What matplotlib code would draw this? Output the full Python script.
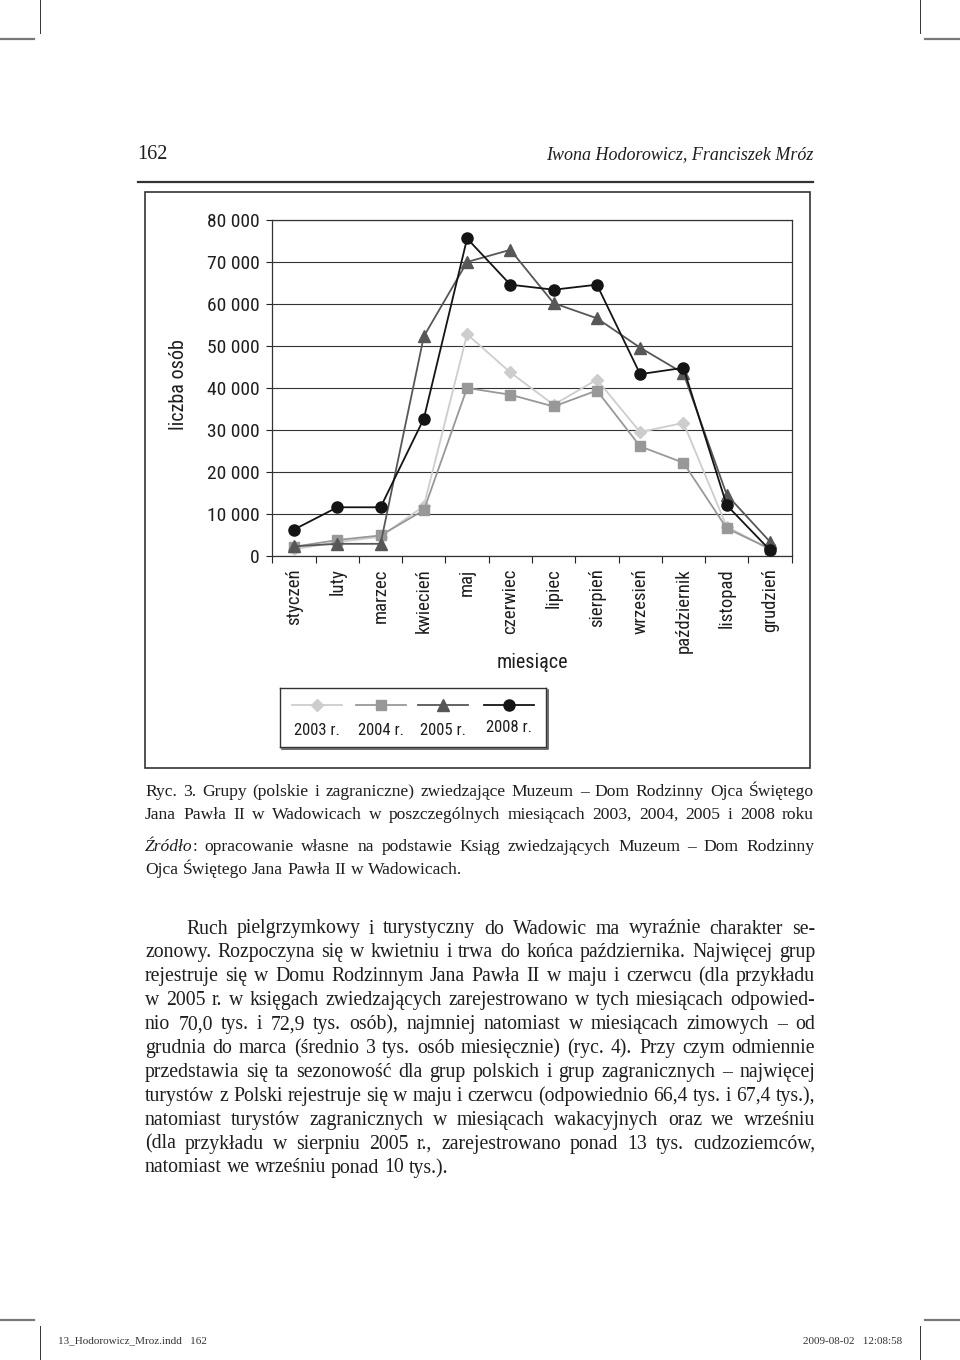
import matplotlib
matplotlib.use('Agg')
import matplotlib.pyplot as plt
from matplotlib.patches import Rectangle
from matplotlib.lines import Line2D

# chart data
MONTHS = ['styczeń', 'luty', 'marzec', 'kwiecień', 'maj', 'czerwiec', 'lipiec',
          'sierpień', 'wrzesień', 'październik', 'listopad', 'grudzień']
YEARS = ['2003 r.', '2004 r.', '2005 r.', '2008 r.']
V2003 = [1600, 3300, 4600, 11900, 52800, 43700, 36000, 42000, 29500, 31700, 7000, 1600]
V2004 = [2200, 3800, 4900, 10900, 40000, 38400, 35600, 39400, 26100, 22200, 6600, 1700]
V2005 = [2300, 2900, 2900, 52300, 70000, 72900, 60200, 56600, 49600, 43500, 14600, 3400]
V2008 = [6300, 11600, 11600, 32700, 75600, 64600, 63400, 64600, 43300, 44800, 12100, 1400]
Y_TICKS = [0, 10000, 20000, 30000, 40000, 50000, 60000, 70000, 80000]

SERIES = [
    (V2003, '#cdcdcd', 'D', 6),
    (V2004, '#989898', 's', 6.5),
    (V2005, '#575757', '^', 8),
    (V2008, '#141414', 'o', 8),
]

W, H = 960, 1360
SANS = ['Roboto Condensed', 'DejaVu Sans']
SERIF = ['Liberation Serif', 'DejaVu Serif']
INK = '#1e1e1e'

fig = plt.figure(figsize=(W / 100, H / 100), dpi=100)


def fx(x):
    return x / W


def fy(y):
    return 1 - y / H


def box(x0, y0, x1, y1):
    return [fx(x0), fy(y1), fx(x1) - fx(x0), fy(y0) - fy(y1)]


# crop marks
for xs, ys, c, lw in [([0, 34], [39, 39], '#777777', 1.6), ([925, 960], [39, 39], '#777777', 1.6),
                      ([40, 40], [0, 33], '#333333', 0.7), ([920, 920], [0, 33], '#333333', 0.7),
                      ([0, 34], [1320, 1320], '#777777', 1.6), ([925, 960], [1320, 1320], '#777777', 1.6),
                      ([40, 40], [1326, 1360], '#333333', 0.7), ([920, 920], [1326, 1360], '#333333', 0.7)]:
    fig.add_artist(Line2D([fx(v) for v in xs], [fy(v) for v in ys], color=c, lw=lw))

# running header
fig.text(fx(137), fy(159), '162', family=SERIF, fontsize=14.5, va='baseline', ha='left', color=INK)
fig.text(fx(813), fy(159), 'Iwona Hodorowicz, Franciszek Mróz', family=SERIF, style='italic',
         fontsize=13, va='baseline', ha='right', color=INK)
fig.add_artist(Line2D([fx(138), fx(813)], [fy(182), fy(182)], color='#333333', lw=1.6))

# frame round the figure
fig.add_artist(Rectangle((fx(145), fy(768)), fx(810) - fx(145), fy(192) - fy(768),
                         fill=False, edgecolor='#333333', lw=1.2))

# the line chart
ax = fig.add_axes(box(272.4, 220, 791.6, 556))
x = list(range(len(MONTHS)))
for vals, col, mk, ms in SERIES:
    ax.plot(x, vals, color=col, lw=1.3, marker=mk, markersize=ms, markerfacecolor=col,
            markeredgecolor=col, zorder=3)
ax.set_xlim(-0.5, len(MONTHS) - 0.5)
ax.set_ylim(0, 80000)
ax.set_yticks(Y_TICKS)
ax.set_yticklabels([f'{v:,}'.replace(',', ' ') for v in Y_TICKS], family=SANS, fontsize=14,
                   color=INK)
ax.tick_params(axis='y', length=4, width=0.8, pad=5, color='#222222')
ax.grid(axis='y', color='#333333', lw=0.8)
ax.set_axisbelow(True)
ax.set_xticks([i - 0.5 for i in range(len(MONTHS) + 1)])
ax.set_xticklabels([])
ax.tick_params(axis='x', which='major', length=5, width=0.8, color='#222222')
ax.set_xticks(x, minor=True)
ax.set_xticklabels(MONTHS, minor=True, rotation=90, family=SANS, fontsize=13.5, color=INK)
ax.tick_params(axis='x', which='minor', length=0, pad=9)
for s in ax.spines.values():
    s.set_color('#333333')
    s.set_linewidth(0.9)

fig.text(fx(179), fy(385), 'liczba osób', rotation=90, family=SANS, fontsize=14.5,
         ha='center', va='center', color=INK)
fig.text(fx(532), fy(662), 'miesiące', family=SANS, fontsize=14.5, ha='center', va='center',
         color=INK)

# legend box, Excel style with labels under the samples
lg = fig.add_axes(box(280, 688, 546, 747))
lg.set_xlim(280, 546)
lg.set_ylim(747, 688)
lg.set_xticks([])
lg.set_yticks([])
for s in lg.spines.values():
    s.set_color('#333333')
    s.set_linewidth(1.0)
fig.add_artist(Line2D([fx(282), fx(547.5), fx(547.5)], [fy(748.5), fy(748.5), fy(690)],
                      color='#555555', lw=1.2))
centers = [317, 381, 443, 509]
for (vals, col, mk, ms), cx, name in zip(SERIES, centers, YEARS):
    lg.plot([cx - 25, cx + 25], [705, 705], color=col, lw=1.3)
    lg.plot([cx], [705], marker=mk, markersize=ms, color=col)
    lg.text(cx, 730 if name != '2008 r.' else 727, name, family=SANS, fontsize=12,
            ha='center', va='center', color=INK)

# caption and body text, justified word by word
renderer = fig.canvas.get_renderer()


def put_line(words, base, x0, x1, size, justify=True):
    items = []
    for word in words:
        segs = word if isinstance(word, list) else [(word, 'normal')]
        parts = []
        wsum = 0
        for txt, st in segs:
            t = fig.text(0, 0, txt, family=SERIF, style=st, fontsize=size, ha='left',
                         va='baseline', color=INK)
            w = t.get_window_extent(renderer).width
            parts.append((t, w))
            wsum += w
        items.append((parts, wsum))
    total = sum(w for _, w in items)
    space = size * 0.25 * 100 / 72
    if justify and len(items) > 1:
        space = (x1 - x0 - total) / (len(items) - 1)
    cur = x0
    for parts, wsum in items:
        p = cur
        for t, w in parts:
            t.set_position((fx(p), fy(base)))
            p += w
        cur += wsum + space


CAP = [
    ('Ryc. 3. Grupy (polskie i zagraniczne) zwiedzające Muzeum – Dom Rodzinny Ojca Świętego', 796, True),
    ('Jana Pawła II w Wadowicach w poszczególnych miesiącach 2003, 2004, 2005 i 2008 roku', 819, True),
]
for line, base, j in CAP:
    put_line(line.split(), base, 145, 814, 12.6, j)

src1 = [[('Źródło', 'italic'), (':', 'normal')]] + \
    'opracowanie własne na podstawie Ksiąg zwiedzających Muzeum – Dom Rodzinny'.split()
put_line(src1, 851, 145, 814, 12.6, True)
put_line('Ojca Świętego Jana Pawła II w Wadowicach.'.split(), 874, 145, 814, 12.6, False)

BODY = [
    'Ruch pielgrzymkowy i turystyczny do Wadowic ma wyraźnie charakter se-',
    'zonowy. Rozpoczyna się w kwietniu i trwa do końca października. Najwięcej grup',
    'rejestruje się w Domu Rodzinnym Jana Pawła II w maju i czerwcu (dla przykładu',
    'w 2005 r. w księgach zwiedzających zarejestrowano w tych miesiącach odpowied-',
    'nio 70,0 tys. i 72,9 tys. osób), najmniej natomiast w miesiącach zimowych – od',
    'grudnia do marca (średnio 3 tys. osób miesięcznie) (ryc. 4). Przy czym odmiennie',
    'przedstawia się ta sezonowość dla grup polskich i grup zagranicznych – najwięcej',
    'turystów z Polski rejestruje się w maju i czerwcu (odpowiednio 66,4 tys. i 67,4 tys.),',
    'natomiast turystów zagranicznych w miesiącach wakacyjnych oraz we wrześniu',
    '(dla przykładu w sierpniu 2005 r., zarejestrowano ponad 13 tys. cudzoziemców,',
    'natomiast we wrześniu ponad 10 tys.).',
]
for i, line in enumerate(BODY):
    start = 186 if i == 0 else 145
    put_line(line.split(), 933.5 + 23.9 * i, start, 815, 14.2, i < len(BODY) - 1)

# slug line at the foot
fig.text(fx(58), fy(1341), '13_Hodorowicz_Mroz.indd   162', family=SERIF, fontsize=8,
         ha='left', va='center', color='#333333')
fig.text(fx(902), fy(1341), '2009-08-02   12:08:58', family=SERIF, fontsize=8,
         ha='right', va='center', color='#333333')

fig.savefig('out.png', dpi=100)
